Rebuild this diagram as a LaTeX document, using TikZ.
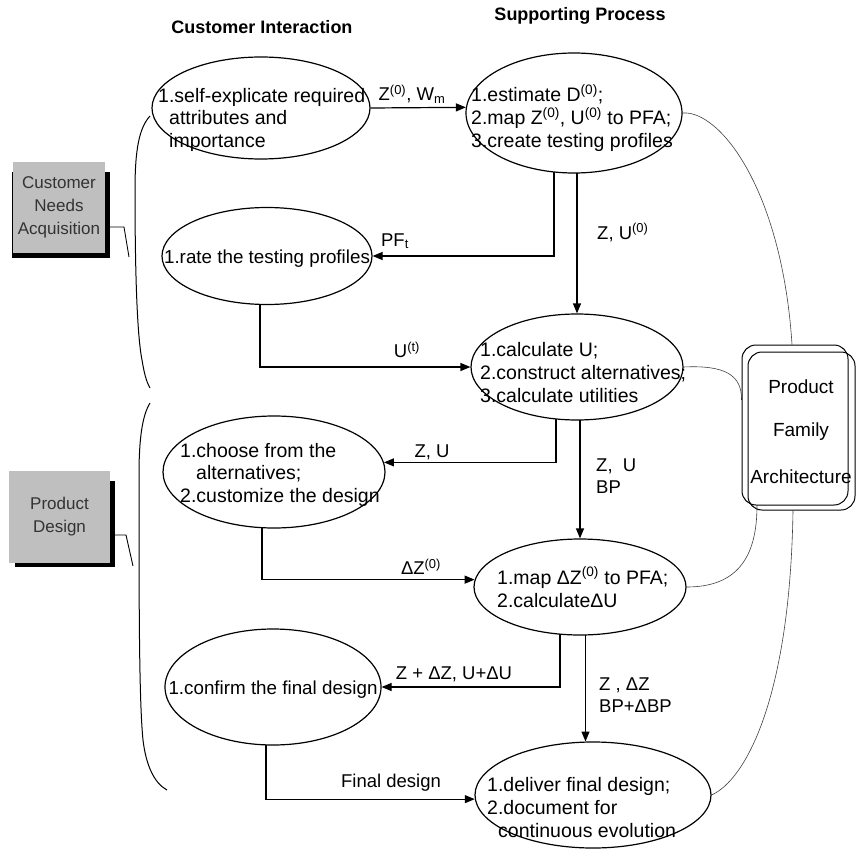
\documentclass[tikz,border=0pt]{standalone}
\usepackage{fontspec}
\setmainfont{Liberation Sans}
\usetikzlibrary{shapes.geometric,arrows.meta,calc}
\pgfdeclarelayer{bg}
\pgfsetlayers{bg,main}
\begin{document}
\begin{tikzpicture}[x=1pt,y=-1pt,
  proc/.style={ellipse, draw, line width=1.2pt, fill=white, inner sep=0pt},
  body/.style={font=\fontsize{19.5}{23}\selectfont, anchor=base west, inner sep=0pt},
  bodyc/.style={font=\fontsize{18.8}{23}\selectfont, anchor=base, inner sep=0pt},
  lbl/.style={font=\fontsize{18.5}{22}\selectfont, inner sep=0pt},
  lblw/.style={font=\fontsize{18.5}{22}\selectfont, inner sep=0pt, anchor=base west},
  head/.style={font=\fontsize{18}{22}\selectfont\bfseries, inner sep=0pt},
  flow/.style={line width=1.2pt, -{Triangle[length=10pt,width=8pt]}},
  link/.style={line width=0.6pt, black!75},
  pfabox/.style={draw, rounded corners=14pt, line width=1pt, inner sep=0pt},
  pfatext/.style={font=\fontsize{19}{22}\selectfont, inner sep=0pt},
  tag/.style={fill=black!25, text=black!80, font=\fontsize{17}{23}\selectfont,
    align=center, inner sep=0pt},
  brace/.style={line width=1pt},
  tagline/.style={line width=0.9pt}
]
\useasboundingbox (0,0) rectangle (856,861);

% column headings
\node[head] (hci) at (262,27) {Customer Interaction};
\node[head] (hsp) at (580,16) {Supporting Process};

% process ellipses
\node[proc, minimum width=218, minimum height=102] (e1) at (261,108) {};
\node[proc, minimum width=216, minimum height=120] (e2) at (574,113) {};
\node[proc, minimum width=210, minimum height=97]  (e3) at (267,256) {};
\node[proc, minimum width=212, minimum height=106] (e4) at (577,367) {};
\node[proc, minimum width=222, minimum height=112] (e5) at (274,472) {};
\node[proc, minimum width=212, minimum height=96]  (e6) at (580,587) {};
\node[proc, minimum width=216, minimum height=116] (e7) at (273,687) {};
\node[proc, minimum width=236, minimum height=106] (e8) at (593,795) {};

% ellipse texts
\node[body] (t1a) at (158,103) {1.self-explicate required};
\node[body] (t1b) at (169,125) {attributes and};
\node[body] (t1c) at (169,148) {importance};

\node[body] (t2a) at (471,102) {1.estimate D\textsuperscript{(0)};};
\node[body] (t2b) at (471,125) {2.map Z\textsuperscript{(0)}, U\textsuperscript{(0)} to PFA;};
\node[body] (t2c) at (471,148) {3.create testing profiles};

\node[bodyc] (t3a) at (267,263) {1.rate the testing profiles};

\node[body] (t4a) at (480,356) {1.calculate U;};
\node[body] (t4b) at (480,379) {2.construct alternatives;};
\node[body] (t4c) at (480,402) {3.calculate utilities};

\node[body] (t5a) at (180,457) {1.choose from the};
\node[body] (t5b) at (196,479) {alternatives;};
\node[body] (t5c) at (180,502) {2.customize the design};

\node[body] (t6a) at (497,584) {1.map ΔZ\textsuperscript{(0)} to PFA;};
\node[body] (t6b) at (497,607) {2.calculateΔU};

\node[bodyc] (t7a) at (273,694) {1.confirm the final design};

\node[body] (t8a) at (487,791) {1.deliver final design;};
\node[body] (t8b) at (487,814) {2.document for};
\node[body] (t8c) at (498,837) {continuous evolution};

% product family architecture
\node[pfabox, minimum width=106, minimum height=160] (pfa) at (795,425) {};
\node[pfabox, minimum width=107, minimum height=158] (pfb) at (801.5,431) {};
\node[pfatext] (pf1) at (801,387) {Product};
\node[pfatext] (pf2) at (801,432) {Family};
\node[pfatext] (pf3) at (801,477) {Architecture};

% phase tags
\node[tag, minimum width=92, minimum height=91] (cna) at (59,207.5) {Customer\\Needs\\Acquisition};
\node[tag, minimum width=101, minimum height=92] (pd) at (59.5,517) {Product\\Design};

% flow labels
\node[lbl] (l1) at (412,94) {Z\textsuperscript{(0)}, W\textsubscript{m}};
\node[lbl] (l2) at (395,241) {PF\textsubscript{t}};
\node[lblw] (l3) at (597,239) {Z, U\textsuperscript{(0)}};
\node[lbl] (l4) at (407,350) {U\textsuperscript{(t)}};
\node[lbl] (l5) at (432,452) {Z, U};
\node[lblw] (l6a) at (596,471) {Z,\ \ U};
\node[lblw] (l6b) at (596,493) {BP};
\node[lbl] (l7) at (421,567) {ΔZ\textsuperscript{(0)}};
\node[lbl] (l8) at (454,674) {Z + ΔZ, U+ΔU};
\node[lblw] (l9a) at (599,690) {Z , ΔZ};
\node[lblw] (l9b) at (599,712) {BP+ΔBP};
\node[lbl] (l10) at (391,783) {Final design};

\coordinate (k1) at (124,227);
\coordinate (k1end) at (129,257);
\coordinate (k2) at (126,535);
\coordinate (k2end) at (133,566);

\begin{pgfonlayer}{bg}
  % tag shadows
  \fill[black] ($(cna.north east)+(5,10)$) rectangle ($(cna.south west)+(-1,5)$);
  \fill[black] ($(pd.north east)+(5,10)$) rectangle ($(pd.south west)+(6,4)$);

  % information flows
  \draw[flow] (e1.east) -- (e2.177.3);
  \draw[flow] ([xshift=-20pt]e2.center) |- (e3.east);
  \draw[flow] (e4.north |- e2.center) -- (e4.north);
  \draw[flow] ([xshift=-7pt]e3.center) |- (e4.west);
  \draw[flow] ([xshift=-21pt]e4.center) |- (e5.5.2);
  \draw[flow] (e6.north |- e4.center) -- (e6.north);
  \draw[flow] ([xshift=-12pt]e5.center) |- (e6.176.2);
  \draw[flow] ([xshift=-20pt]e6.center) |- (e7.east);
  \draw[flow] (e8.98.6 |- e6.center) -- (e8.98.6);
  \draw[flow] ([xshift=-7pt]e7.center) |- (e8.182.9);

  % links to the product family architecture
  \draw[link] (e2.east) .. controls (720,110) and (782,190) .. (pfa.north -| 792,0);
  \draw[link] (e4.east) .. controls (725,365) and (742,375) .. (pfa.west |- 0,400);
  \draw[link] (e6.east) .. controls (735,587) and (757,560) .. (pfa.south -| 757,0);
  \draw[link] (e8.east) .. controls (745,780) and (790,700) .. (pfb.south -| 793,0);
\end{pgfonlayer}

% tag pointers
\draw[tagline] (cna.east |- k1) -- (k1) -- (k1end);
\draw[tagline] (pd.east |- k2) -- (k2) -- (k2end);

% phase braces
\draw[brace] (150,116) .. controls (139,128) and (135,150) .. (135,190)
  .. controls (135,270) and (137,335) .. (142,360)
  .. controls (144,372) and (146,381) .. (150,388);
\draw[brace] (150,403) .. controls (142,416) and (139,440) .. (139,475)
  .. controls (139,600) and (139,700) .. (143,740)
  .. controls (146,765) and (154,783) .. (167,790);
\end{tikzpicture}
\end{document}
